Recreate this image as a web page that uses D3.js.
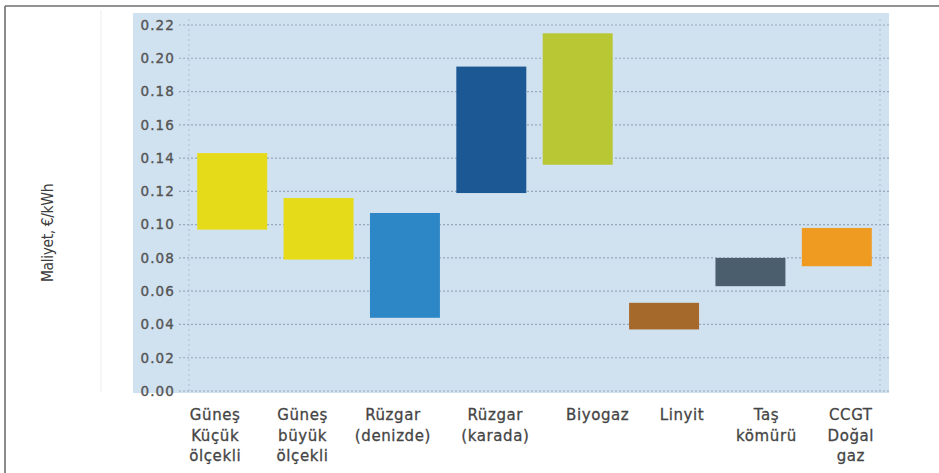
<!DOCTYPE html>
<html>
<head>
<meta charset="utf-8">
<script src="https://cdn.jsdelivr.net/npm/d3@7"></script>
<style>
  html, body { margin: 0; padding: 0; background: #fff; }
  svg { display: block; }
</style>
</head>
<body>
<svg id="chart" width="939" height="473"></svg>
<script>
// Electricity generation cost ranges (€/kWh) by technology
const categories = [
  "Güneş\nKüçük\nölçekli",
  "Güneş\nbüyük\nölçekli",
  "Rüzgar\n(denizde)",
  "Rüzgar\n(karada)",
  "Biyogaz",
  "Linyit",
  "Taş\nkömürü",
  "CCGT\nDoğal\ngaz"
];
const costLow  = [0.097, 0.079, 0.044, 0.119, 0.136, 0.037, 0.063, 0.075];
const costHigh = [0.143, 0.116, 0.107, 0.195, 0.215, 0.053, 0.080, 0.098];
const tickValues = [0, 0.02, 0.04, 0.06, 0.08, 0.10, 0.12, 0.14, 0.16, 0.18, 0.20, 0.22];
const yTitle = "Maliyet, €/kWh";

// Styling
const barColors = ["#e6db18", "#e6db18", "#2d87c6", "#1b5894", "#b9c734", "#a6692c", "#4a5e6d", "#ef9a21"];
const labelShift = [-17, -16, -12, 4, 20, 18, 16, 14];

const svg = d3.select("#chart");

// Outer frame (top and left rules)
svg.append("line").attr("x1", 5).attr("x2", 939).attr("y1", 6).attr("y2", 6)
  .attr("stroke", "#6e6e6e").attr("stroke-width", 1.6);
svg.append("line").attr("x1", 5).attr("x2", 5).attr("y1", 6).attr("y2", 473)
  .attr("stroke", "#6e6e6e").attr("stroke-width", 1.6);

// faint panel edge
svg.append("line").attr("x1", 101).attr("x2", 101).attr("y1", 10).attr("y2", 392)
  .attr("stroke", "#f1f3f5").attr("stroke-width", 1.5);

// Plot panel background
svg.append("rect").attr("x", 133).attr("y", 13).attr("width", 756).attr("height", 380)
  .attr("fill", "#d0e1ef");

const x = d3.scaleBand()
  .domain(categories)
  .range([189, 880])
  .paddingInner(0.19)
  .paddingOuter(0.095);

const y = d3.scaleLinear().domain([0, 0.22]).range([391, 25]);

// Horizontal dotted gridlines
const grid = svg.append("g");
grid.selectAll("line.h").data(tickValues).join("line")
  .attr("class", "h")
  .attr("x1", 179).attr("x2", 889)
  .attr("y1", d => y(d)).attr("y2", d => y(d))
  .attr("stroke", "#97a9bb").attr("stroke-width", 1.2)
  .attr("stroke-dasharray", "2,2");

// Vertical dotted edges of the plotting area
[189, 880].forEach(v => {
  grid.append("line")
    .attr("x1", v).attr("x2", v).attr("y1", y(0.22) - 6).attr("y2", y(0))
    .attr("stroke", "#aebfce").attr("stroke-width", 1)
    .attr("stroke-dasharray", "2,3");
});

// Y axis tick labels
const yAxis = d3.axisLeft(y).tickValues(tickValues).tickFormat(d3.format(".2f")).tickSize(0).tickPadding(0);
const yg = svg.append("g").attr("transform", "translate(175,0)").call(yAxis);
yg.select(".domain").remove();
yg.selectAll("text")
  .attr("fill", "#555")
  .attr("stroke", "#555")
  .attr("stroke-width", 0.35)
  .style("font-family", "'DejaVu Sans', sans-serif")
  .style("font-size", "13.5px")
  .style("letter-spacing", "1.1px");

// Floating range bars
const data = categories.map((c, i) => ({ c, lo: costLow[i], hi: costHigh[i], color: barColors[i], dx: labelShift[i] }));

svg.append("g").selectAll("rect").data(data).join("rect")
  .attr("x", d => x(d.c))
  .attr("width", x.bandwidth())
  .attr("y", d => y(d.hi))
  .attr("height", d => y(d.lo) - y(d.hi))
  .attr("fill", d => d.color);

// Category labels (multi-line)
const labels = svg.append("g")
  .style("font-family", "'DejaVu Sans', sans-serif")
  .style("font-size", "15px")
  .style("letter-spacing", "0.6px")
  .attr("fill", "#454545")
  .attr("stroke", "#454545")
  .attr("stroke-width", 0.3)
  .attr("text-anchor", "middle");

labels.selectAll("text").data(data).join("text")
  .attr("transform", d => `translate(${x(d.c) + x.bandwidth() / 2 + d.dx},420)`)
  .each(function (d) {
    d3.select(this).selectAll("tspan").data(d.c.split("\n")).join("tspan")
      .attr("x", 0)
      .attr("y", (t, i) => i * 20.5)
      .text(t => t);
  });

// Y axis title
svg.append("text")
  .attr("transform", "translate(53,233) rotate(-90)")
  .attr("text-anchor", "middle")
  .attr("fill", "#3c3c3c")
  .style("font-family", "'DejaVu Sans Condensed', 'DejaVu Sans', sans-serif")
  .style("font-stretch", "condensed")
  .style("font-size", "15.5px")
  .style("letter-spacing", "-0.4px")
  .text(yTitle);
</script>
</body>
</html>
